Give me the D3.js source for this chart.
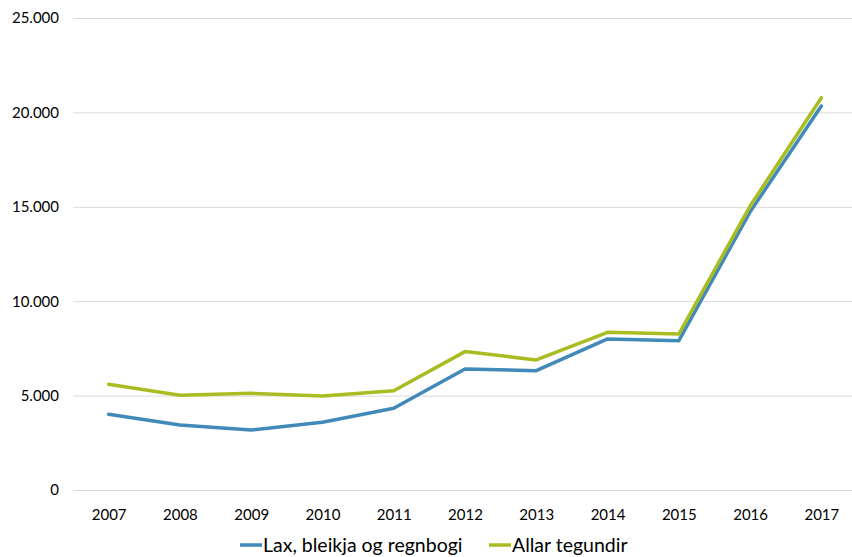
<!DOCTYPE html>
<html>
<head>
<meta charset="utf-8">
<script src="https://cdn.jsdelivr.net/npm/d3@7"></script>
<style>
  html, body { margin: 0; padding: 0; background: #fff; }
  svg { display: block; font-family: Lato, "Open Sans", sans-serif; }
</style>
</head>
<body>
<svg id="chart" width="852" height="557"></svg>
<script>
const years = ["2007","2008","2009","2010","2011","2012","2013","2014","2015","2016","2017"];
const laxValues = [4010, 3440, 3180, 3590, 4330, 6410, 6320, 8000, 7910, 14730, 20340];
const allarValues = [5600, 5020, 5120, 4980, 5260, 7330, 6890, 8350, 8260, 15040, 20780];
const seriesNames = ["Lax, bleikja og regnbogi", "Allar tegundir"];
const seriesColors = ["#4189b9", "#a9bd22"];
const yTicks = [0, 5000, 10000, 15000, 20000, 25000];

const svg = d3.select("#chart");
const plotLeft = 73, plotRight = 857, plotTop = 18, plotBottom = 490;

const x = d3.scalePoint().domain(years).range([plotLeft, plotRight]).padding(0.5);
const y = d3.scaleLinear().domain([0, 25000]).range([plotBottom, plotTop]);

const fmt = v => v === 0 ? "0" : d3.format(",")(v).replace(/,/g, ".");

// gridlines
const yAxis = d3.axisLeft(y).tickValues(yTicks).tickSize(-(852 - plotLeft)).tickFormat(fmt).tickPadding(14);
const gy = svg.append("g").attr("transform", `translate(${plotLeft},0)`).call(yAxis);
gy.select(".domain").remove();
gy.selectAll(".tick line").attr("stroke", "#d9d9d9").attr("stroke-width", 1);
gy.selectAll(".tick text").attr("fill", "#000").style("font-size", "15px").style("font-family", "Lato, sans-serif");

// x axis labels
const xAxis = d3.axisBottom(x).tickSize(0).tickPadding(19);
const gx = svg.append("g").attr("transform", `translate(0,${plotBottom})`).call(xAxis);
gx.select(".domain").remove();
gx.selectAll(".tick text").attr("fill", "#000").style("font-size", "15px").style("font-family", "Lato, sans-serif");

const line = d3.line().x((d, i) => x(years[i])).y(d => y(d));
[laxValues, allarValues].forEach((vals, k) => {
  svg.append("path")
    .datum(vals)
    .attr("d", line)
    .attr("fill", "none")
    .attr("stroke", seriesColors[k])
    .attr("stroke-width", 3.5)
    .attr("stroke-linejoin", "round")
    .attr("stroke-linecap", "round");
});

// legend
const legendItems = [
  { name: seriesNames[0], color: seriesColors[0], x: 240 },
  { name: seriesNames[1], color: seriesColors[1], x: 489 }
];
const legend = svg.append("g");
legendItems.forEach(it => {
  legend.append("line")
    .attr("x1", it.x).attr("x2", it.x + 22)
    .attr("y1", 545).attr("y2", 545)
    .attr("stroke", it.color).attr("stroke-width", 3.5);
  legend.append("text")
    .attr("x", it.x + 23).attr("y", 552)
    .style("font-size", "19.5px")
    .style("font-family", "Lato, sans-serif")
    .attr("fill", "#000")
    .text(it.name);
});
</script>
</body>
</html>
